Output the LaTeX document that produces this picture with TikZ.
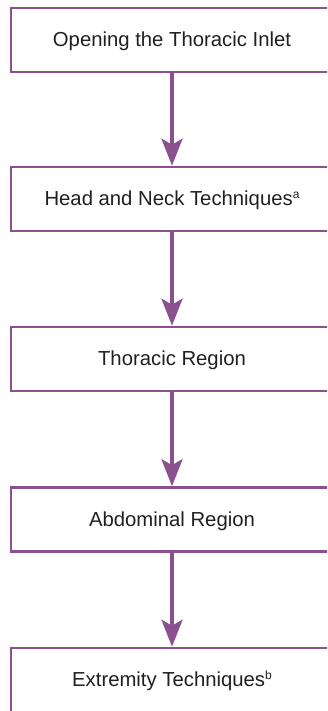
\documentclass[tikz,border=0pt]{standalone}
\usepackage{fontspec}
\setmainfont{Liberation Sans}
\usetikzlibrary{arrows.meta}
\definecolor{plum}{RGB}{138,80,143}
\definecolor{txt}{RGB}{35,31,32}
\newcommand{\supmark}[1]{\raisebox{7.5bp}{\fontsize{12bp}{12bp}\selectfont #1}}
\begin{document}
\begin{tikzpicture}[x=1bp,y=-1bp,
  stagebox/.style={draw=plum, line width=2.6bp, fill=white, minimum width=322bp, minimum height=64bp,
    inner sep=0pt, anchor=center},
  label text/.style={inner sep=0pt, text height=15bp, text depth=4bp, yshift=-1bp, text=txt,
    font=\fontsize{20.3bp}{24bp}\selectfont},
  flowarrow/.style={draw=plum, line width=4bp, -{Stealth[length=27bp,width=21bp,inset=6bp]}}]
\useasboundingbox (0,0) rectangle (327,711);
\clip (0,0) rectangle (327,711);
\node[stagebox] (b1) at (172,40) {};
\node[stagebox] (b2) at (172,199) {};
\node[stagebox] (b3) at (172,359) {};
\node[stagebox] (b4) at (172,519.5) {};
\node[stagebox] (b5) at (172,680) {};
\node[label text] (t1) at (b1.center) {Opening the Thoracic Inlet};
\node[label text] (t2) at (b2.center) {Head and Neck Techniques\supmark{a}};
\node[label text] (t3) at (b3.center) {Thoracic Region};
\node[label text] (t4) at (b4.center) {Abdominal Region};
\node[label text] (t5) at (b5.center) {Extremity Techniques\supmark{b}};
\draw[flowarrow] (b1.south) -- (b2.north);
\draw[flowarrow] (b2.south) -- (b3.north);
\draw[flowarrow] (b3.south) -- (b4.north);
\draw[flowarrow] (b4.south) -- (b5.north);
\end{tikzpicture}
\end{document}
